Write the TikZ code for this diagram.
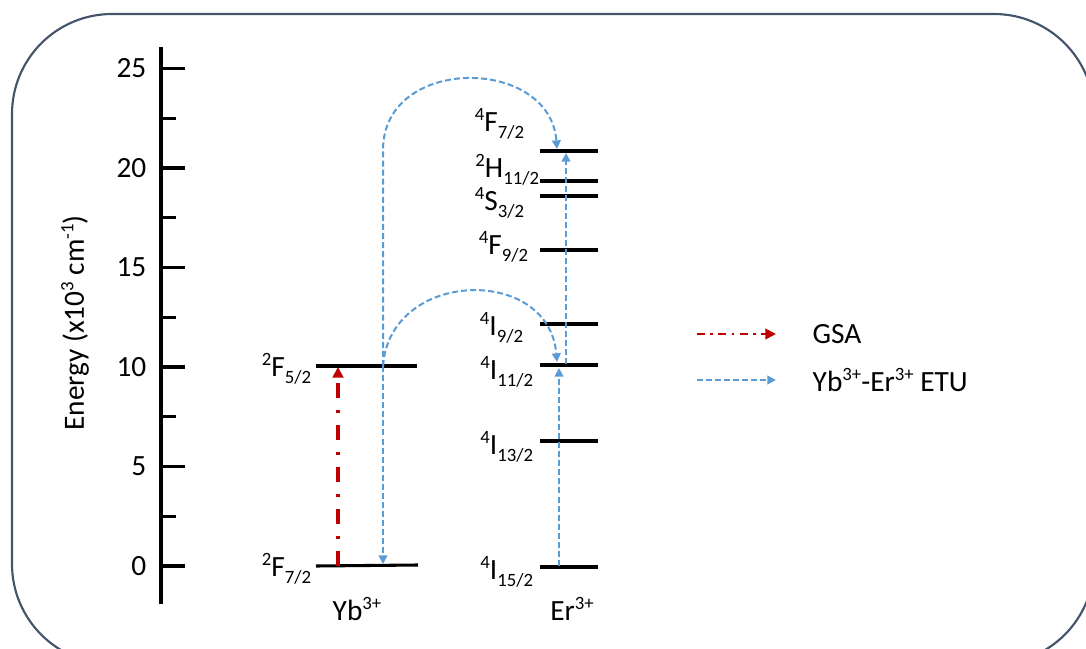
\documentclass[tikz,border=0pt]{standalone}
\usepackage{fontspec}
\setmainfont{Carlito}
\usetikzlibrary{arrows.meta,calc}

\definecolor{framecol}{HTML}{44546A}
\definecolor{gsared}{HTML}{C00000}
\definecolor{etublue}{HTML}{5B9BD5}

\newcommand\supx[1]{\raisebox{0.36em}{\scalebox{0.64}{#1}}}
\newcommand\subx[1]{\raisebox{-0.24em}{\scalebox{0.64}{#1}}}

\tikzset{
  level/.style={line width=2.3pt},
  gsa/.style={gsared, line width=2.3pt, dash pattern=on 11pt off 9pt on 2.5pt off 9pt,
    -{Triangle[length=8pt,width=8pt]}},
  etu/.style={etublue, line width=1.5pt, dash pattern=on 4.5pt off 2.3pt,
    -{Triangle[length=6.5pt,width=6.5pt]}},
  lbl/.style={anchor=east, inner sep=2pt},
}

\begin{document}
\begin{tikzpicture}[x=0.75pt, y=-0.75pt, font=\fontsize{22}{26}\selectfont]
  \useasboundingbox (0,0) rectangle (1086,649);
  \clip (0,0) rectangle (1086,649);
  \draw[framecol, line width=1.6pt, rounded corners=75pt] (12,14) rectangle (1094,664);

  % energy axis
  \draw[level] (161,47) -- (161,604);
  \foreach \e in {0,5,...,25} {
    \draw[level] (161,{566-19.9*\e}) -- (185,{566-19.9*\e});
    \node[anchor=east] (tick\e) at (151,{566-19.9*\e}) {\e};
  }
  \foreach \e in {2.5,7.5,...,22.5}
    \draw[level] (161,{566-19.9*\e}) -- (176,{566-19.9*\e});
  \node[rotate=90] (ylab) at (75,323) {Energy (x10\supx{3} cm\supx{-1})};

  % Yb levels
  \coordinate (ybU1) at (316,366);
  \coordinate (ybU2) at (417,366);
  \coordinate (ybG1) at (316,566);
  \coordinate (ybG2) at (418,565);
  \draw[level] (ybU1) -- (ybU2);
  \draw[level] (ybG1) -- (ybG2);
  \node[lbl] (lF52) at (314,369) {\supx{2}F\subx{5/2}};
  \node[lbl] (lF72) at (314,569) {\supx{2}F\subx{7/2}};
  \node (yb) at (357,609) {Yb\supx{3+}};

  % Er levels
  \foreach \n/\y in {F72/151, H112/181, S32/196, F92/250, I92/324, I112/365, I132/441, I152/567} {
    \coordinate (er\n a) at (540,\y);
    \coordinate (er\n b) at (598,\y);
    \draw[level] (er\n a) -- (er\n b);
  }
  \node[lbl] (lerF72) at (527,124) {\supx{4}F\subx{7/2}};
  \node[lbl] (lerH112) at (542,170) {\supx{2}H\subx{11/2}};
  \node[lbl] (lerS32) at (527,203) {\supx{4}S\subx{3/2}};
  \node[lbl] (lerF92) at (531,247) {\supx{4}F\subx{9/2}};
  \node[lbl] (lerI92) at (526,328) {\supx{4}I\subx{9/2}};
  \node[lbl] (lerI112) at (536,372) {\supx{4}I\subx{11/2}};
  \node[lbl] (lerI132) at (536,447) {\supx{4}I\subx{13/2}};
  \node[lbl] (lerI152) at (536,572) {\supx{4}I\subx{15/2}};
  \node (er) at (572,609) {Er\supx{3+}};

  % GSA
  \coordinate (gsaS) at (338,566);
  \coordinate (gsaE) at (338,367);
  \draw[gsa] (gsaS) -- (gsaE);

  % ETU
  \coordinate (ybX) at (383,366);
  \coordinate (ybDn) at (383,564);
  \coordinate (ybTop) at (383,150);
  \coordinate (erHi) at (557,149);
  \coordinate (erMid) at (557,362);
  \draw[etu] (ybX) -- (ybDn);
  \draw[etu] (ybX) -- (ybTop) .. controls +(0,-95) and +(-7,-93) .. (erHi);
  \draw[etu] (ybX) .. controls +(7,-97) and +(-8,-97) .. (erMid);
  \coordinate (erG) at (559,566);
  \coordinate (erGt) at (559,368);
  \coordinate (erM) at (566,364);
  \coordinate (erMt) at (566,153);
  \draw[etu] (erG) -- (erGt);
  \draw[etu] (erM) -- (erMt);

  % legend
  \coordinate (lgA1) at (697,334);
  \coordinate (lgA2) at (776,334);
  \coordinate (lgB1) at (697,380);
  \coordinate (lgB2) at (776,380);
  \draw[gsa, line width=1.6pt, dash pattern=on 6pt off 4pt on 2pt off 4pt] (lgA1) -- (lgA2);
  \draw[etu] (lgB1) -- (lgB2);
  \node[anchor=west] (lgGSA) at (808,334) {GSA};
  \node[anchor=west] (lgETU) at (808,380) {Yb\supx{3+}-Er\supx{3+} ETU};
\end{tikzpicture}
\end{document}
